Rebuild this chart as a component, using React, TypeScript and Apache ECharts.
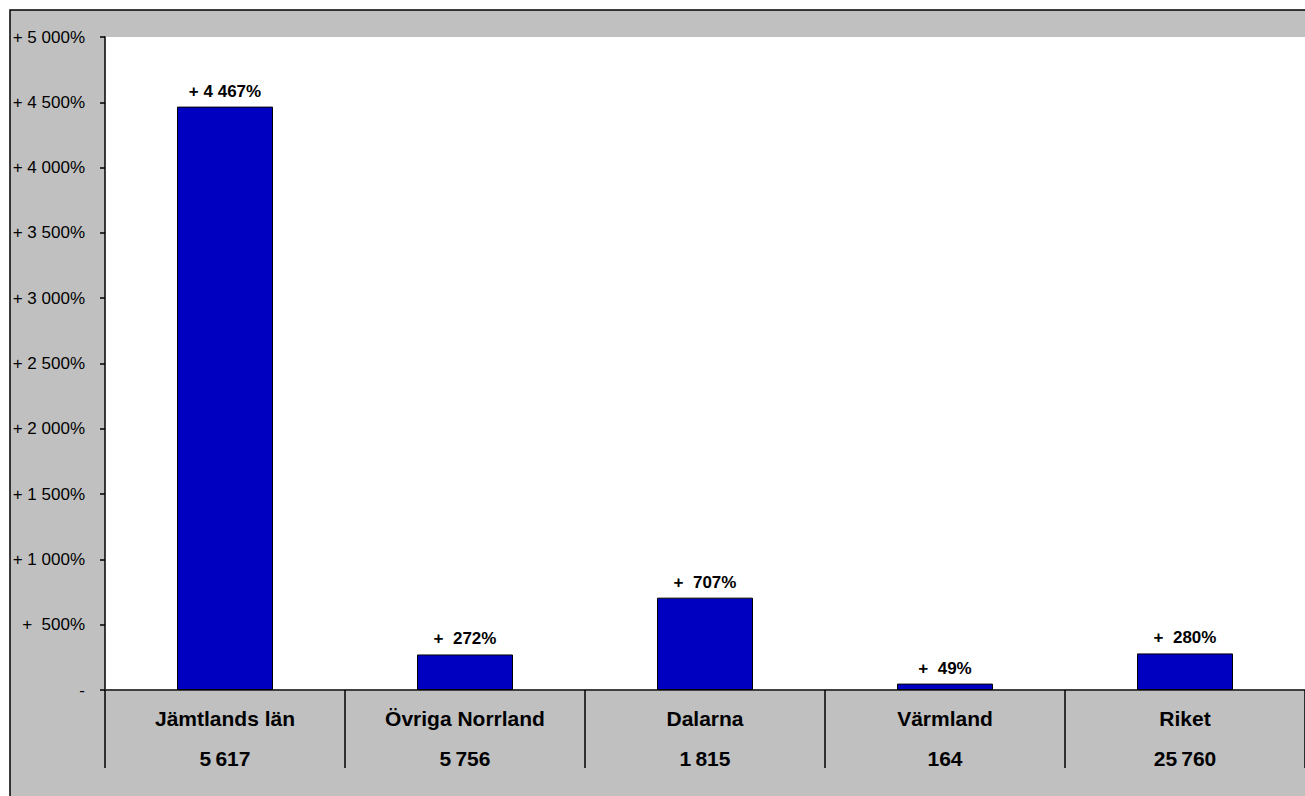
import React, { useEffect, useRef } from "react";
import * as echarts from "echarts";

const categories = ["Jämtlands län", "Övriga Norrland", "Dalarna", "Värmland", "Riket"];
const counts = ["5\u2009617", "5\u2009756", "1\u2009815", "164", "25\u2009760"];
const growthPct = [4467, 272, 707, 49, 280];
const valueLabels = ["+ 4 467%", "+  272%", "+  707%", "+  49%", "+  280%"];

const fmtAxis = (v: number) => {
  if (v === 0) return "-";
  if (v < 1000) return "+  " + v + "%";
  const s = String(v);
  return "+ " + s.slice(0, s.length - 3) + " " + s.slice(s.length - 3) + "%";
};

export default function App() {
  const ref = useRef<HTMLDivElement>(null);
  useEffect(() => {
    document.body.style.margin = "0";
    const chart = echarts.init(ref.current!, null, { renderer: "svg" });
    chart.setOption({
      animation: false,
      backgroundColor: "#ffffff",
      textStyle: { fontFamily: "Liberation Sans, Arial, sans-serif" },
      graphic: [
        {
          type: "rect",
          z: -10,
          silent: true,
          shape: { x: 10, y: 10, width: 1310, height: 800 },
          style: { fill: "#C0C0C0", stroke: "#000000", lineWidth: 1.5 },
        },
      ],
      grid: {
        left: 105,
        top: 37,
        right: -2,
        bottom: 106,
        show: true,
        backgroundColor: "#ffffff",
        borderWidth: 0,
      },
      xAxis: {
        type: "category",
        data: categories,
        axisLine: { show: true, lineStyle: { color: "#404040", width: 2 } },
        axisTick: { show: true, length: 78, lineStyle: { color: "#000", width: 1.5 } },
        axisLabel: {
          margin: 8,
          formatter: (val: string, idx: number) => `{a|${val}}\n{a|${counts[idx]}}`,
          rich: {
            a: {
              fontFamily: "Liberation Sans, Arial, sans-serif",
              fontWeight: "bold",
              fontSize: 21,
              lineHeight: 40,
              color: "#000",
            },
          },
        },
        splitLine: { show: false },
      },
      yAxis: {
        type: "value",
        min: 0,
        max: 5000,
        interval: 500,
        axisLine: { show: true, lineStyle: { color: "#000", width: 1.5 } },
        axisTick: { show: true, length: 5, lineStyle: { color: "#000", width: 1.5 } },
        splitLine: { show: false },
        axisLabel: {
          margin: 20,
          fontSize: 17,
          color: "#000",
          fontFamily: "Liberation Sans, Arial, sans-serif",
          formatter: fmtAxis,
        },
      },
      series: [
        {
          type: "bar",
          data: growthPct,
          barWidth: "40%",
          itemStyle: { color: "#0000C0", borderColor: "#000", borderWidth: 1 },
          label: {
            show: true,
            position: "top",
            distance: 7,
            fontFamily: "Liberation Sans, Arial, sans-serif",
            fontWeight: "bold",
            fontSize: 17,
            color: "#000",
            formatter: (p: any) => valueLabels[p.dataIndex],
          },
        },
      ],
    });
    return () => chart.dispose();
  }, []);
  return <div ref={ref} style={{ width: 1305, height: 796 }} />;
}
